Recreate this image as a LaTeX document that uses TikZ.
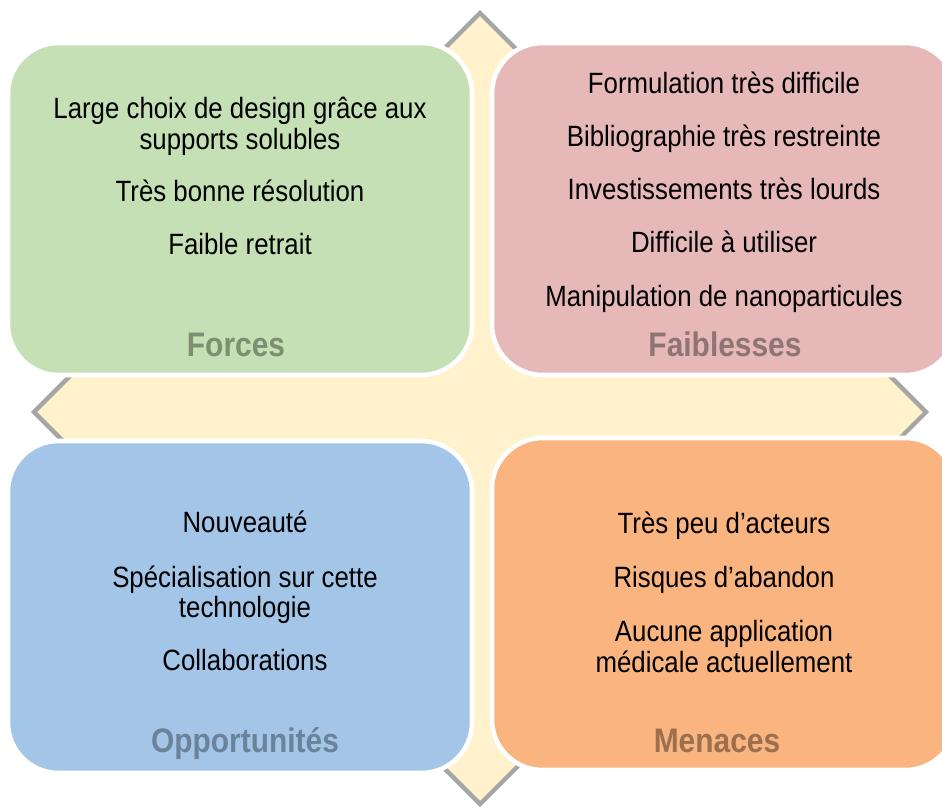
\documentclass[tikz,border=0pt]{standalone}
\usepackage{fontspec}
\setmainfont{Liberation Sans}[FakeStretch=0.88]
\definecolor{cream}{HTML}{FFF2CC}
\definecolor{crossline}{HTML}{A6A6A6}
\definecolor{cgreen}{HTML}{C5E0B4}
\definecolor{cpink}{HTML}{E6B9B8}
\definecolor{cblue}{HTML}{A3C6E8}
\definecolor{corange}{HTML}{F9B47F}
\definecolor{tgreen}{HTML}{7D8F70}
\definecolor{tpink}{HTML}{8F7475}
\definecolor{tblue}{HTML}{6B829B}
\definecolor{torange}{HTML}{9C6F4F}
\begin{document}
\begin{tikzpicture}[x=0.75pt,y=-0.75pt,
  quadbox/.style={draw=white, line width=3.4pt, rounded corners=38pt,
    minimum width=348pt, minimum height=249pt, inner sep=0pt},
  item/.style={anchor=base, inner sep=0pt, font=\fontsize{22}{24}\selectfont},
  title/.style={anchor=base, inner sep=0pt, font=\fontsize{25.5}{28}\selectfont\bfseries}]
\useasboundingbox (0,0) rectangle (942,808);
% background quad arrow
\filldraw[fill=cream, draw=crossline, line width=3.2pt, line join=miter]
  (480,13) -- (600,133) -- (560,133) -- (560,332) -- (806,332) -- (806,292)
  -- (926,412) -- (806,532) -- (806,492) -- (560,492) -- (560,684) -- (600,684)
  -- (480,804) -- (360,684) -- (400,684) -- (400,492) -- (154,492) -- (154,532)
  -- (34,412) -- (154,292) -- (154,332) -- (400,332) -- (400,133) -- (360,133) -- cycle;
% quadrants
\node[quadbox, fill=cgreen]  (forces) at (240,209) {};
\node[quadbox, fill=cpink]   (faib)   at (724,209) {};
\node[quadbox, fill=cblue]   (opp)    at (240,607) {};
\node[quadbox, fill=corange] (men)    at (724,604) {};
% Forces
\node[item] (f1a) at (240,118) {Large choix de design grâce aux};
\node[item] (f1b) at (240,149) {supports solubles};
\node[item] (f2)  at (240,201) {Très bonne résolution};
\node[item] (f3)  at (240,254) {Faible retrait};
\node[title, text=tgreen] (ft) at (236,356) {Forces};
% Faiblesses
\node[item] (w1) at (724,93)  {Formulation très difficile};
\node[item] (w2) at (724,146) {Bibliographie très restreinte};
\node[item] (w3) at (724,199) {Investissements très lourds};
\node[item] (w4) at (724,252) {Difficile à utiliser};
\node[item] (w5) at (724,306) {Manipulation de nanoparticules};
\node[title, text=tpink] (wt) at (725,356) {Faiblesses};
% Opportunites
\node[item] (o1)  at (245,532) {Nouveauté};
\node[item] (o2a) at (245,587) {Spécialisation sur cette};
\node[item] (o2b) at (245,617) {technologie};
\node[item] (o3)  at (245,670) {Collaborations};
\node[title, text=tblue] (ot) at (245,752) {Opportunités};
% Menaces
\node[item] (m1)  at (724,533) {Très peu d’acteurs};
\node[item] (m2)  at (724,587) {Risques d’abandon};
\node[item] (m3a) at (724,641) {Aucune application};
\node[item] (m3b) at (724,672) {médicale actuellement};
\node[title, text=torange] (mt) at (717,752) {Menaces};
\end{tikzpicture}
\end{document}
